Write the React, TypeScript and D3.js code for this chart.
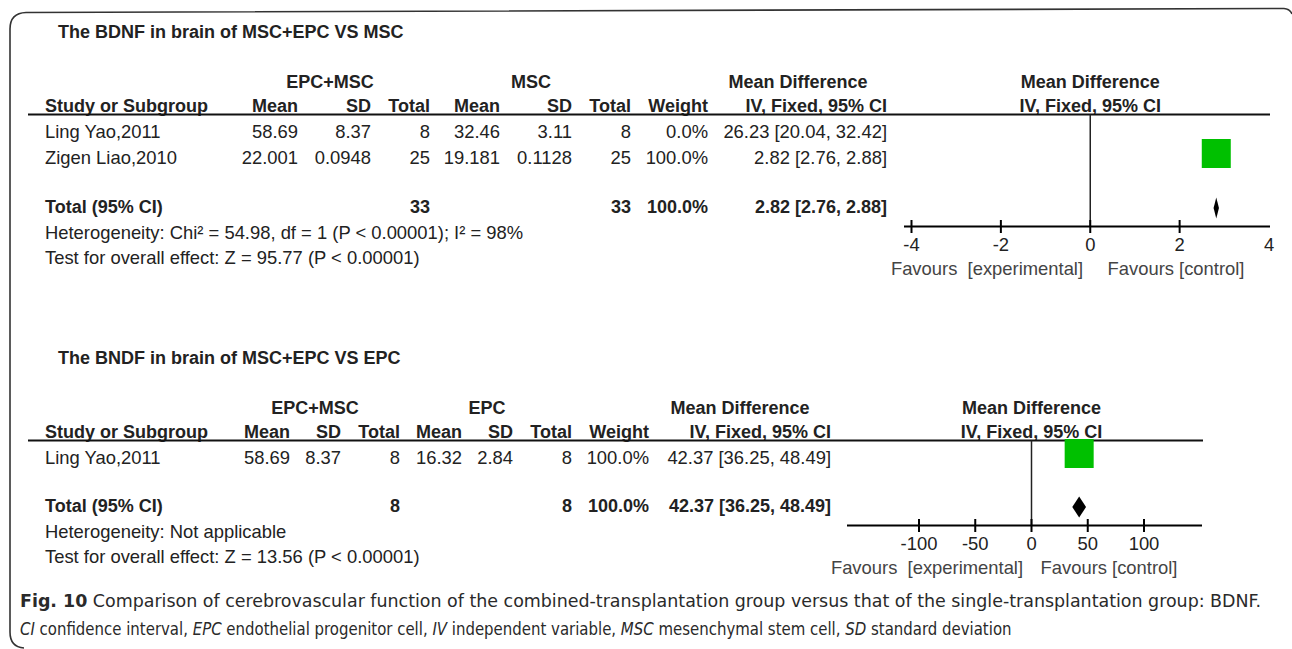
import React from "react";
import * as d3 from "d3";

// ---------- Data: panel 1 (MSC+EPC vs MSC) ----------
const title1 = "The BDNF in brain of MSC+EPC VS MSC";
const groupA1 = "EPC+MSC";
const groupB1 = "MSC";
const studies1 = ["Ling Yao,2011", "Zigen Liao,2010"];
const expMean1 = ["58.69", "22.001"];
const expSD1 = ["8.37", "0.0948"];
const expN1 = [8, 25];
const ctlMean1 = ["32.46", "19.181"];
const ctlSD1 = ["3.11", "0.1128"];
const ctlN1 = [8, 25];
const weight1 = [0.0, 100.0];
const md1 = [26.23, 2.82];
const lo1 = [20.04, 2.76];
const hi1 = [32.42, 2.88];
const total1 = { expN: 33, ctlN: 33, weight: 100.0, md: 2.82, lo: 2.76, hi: 2.88 };
const het1 = "Heterogeneity: Chi\u00B2 = 54.98, df = 1 (P < 0.00001); I\u00B2 = 98%";
const test1 = "Test for overall effect: Z = 95.77 (P < 0.00001)";
const ticks1 = [-4, -2, 0, 2, 4];
const tickMarks1 = [-4, -2, 0, 2];

// ---------- Data: panel 2 (MSC+EPC vs EPC) ----------
const title2 = "The BNDF in brain of MSC+EPC VS EPC";
const groupA2 = "EPC+MSC";
const groupB2 = "EPC";
const studies2 = ["Ling Yao,2011"];
const expMean2 = ["58.69"];
const expSD2 = ["8.37"];
const expN2 = [8];
const ctlMean2 = ["16.32"];
const ctlSD2 = ["2.84"];
const ctlN2 = [8];
const weight2 = [100.0];
const md2 = [42.37];
const lo2 = [36.25];
const hi2 = [48.49];
const total2 = { expN: 8, ctlN: 8, weight: 100.0, md: 42.37, lo: 36.25, hi: 48.49 };
const het2 = "Heterogeneity: Not applicable";
const test2 = "Test for overall effect: Z = 13.56 (P < 0.00001)";
const ticks2 = [-100, -50, 0, 50, 100];
const tickMarks2 = [-100, -50, 0, 50, 100];

const favLeft = "Favours  [experimental]";
const favRight = "Favours [control]";

const FONT = "'Liberation Sans', Arial, Helvetica, sans-serif";
const CAPFONT = "'DejaVu Sans Condensed', 'Open Sans', sans-serif";
const FS = 18.4;
const FSB = 18.0;
const INK = "#222";

type Cols = {
  study: number; mean1: number; sd1: number; tot1: number; mean2: number; sd2: number; tot2: number;
  weight: number; ci: number; grpA: number; grpB: number; mdHead: number;
};

type PanelProps = {
  top: number;
  title: string; groupA: string; groupB: string;
  studies: string[]; expMean: string[]; expSD: string[]; expN: number[];
  ctlMean: string[]; ctlSD: string[]; ctlN: number[];
  weight: number[]; md: number[]; lo: number[]; hi: number[];
  total: { expN: number; ctlN: number; weight: number; md: number; lo: number; hi: number };
  het: string; test: string;
  cols: Cols;
  domain: [number, number]; range: [number, number];
  lineExtent: [number, number];
  ticks: number[]; tickMarks: number[];
  favL: number; favR: number;
  ruleRight: number;
  totalGap: number;
  axisOffset: number;
};

const fmt2 = (v: number) => v.toFixed(2);
const ciText = (m: number, l: number, h: number) => `${fmt2(m)} [${fmt2(l)}, ${fmt2(h)}]`;
const pct = (w: number) => `${w.toFixed(1)}%`;

function T(props: { x: number; y: number; children: React.ReactNode; anchor?: string; bold?: boolean; fill?: string; size?: number }) {
  return (
    <text
      x={props.x}
      y={props.y}
      textAnchor={props.anchor || "start"}
      fontWeight={props.bold ? "bold" : "normal"}
      fill={props.fill || INK}
      fontSize={props.size || (props.bold ? FSB : FS)}
      fontFamily={FONT}
      style={{ whiteSpace: "pre" }}
    >
      {props.children}
    </text>
  );
}

function Panel(p: PanelProps) {
  const x = d3.scaleLinear().domain(p.domain).range(p.range);
  const size = d3.scaleSqrt().domain([0, 100]).range([0, 29]);
  const c = p.cols;
  const yTitle = p.top;
  const yH1 = yTitle + 50;
  const yH2 = yH1 + 24;
  const yRule = yH2 + 2.5;
  const yRow0 = yH2 + 25.5;
  const rowStep = 26;
  const yTotal = yRow0 + (p.studies.length - 1) * rowStep + p.totalGap;
  const yHet = yTotal + 26;
  const yTest = yHet + 25;
  const yAxis = yTotal + p.axisOffset;
  const x0 = x(0);
  const [dmin, dmax] = x.domain();
  const diamondH = 21;

  return (
    <g>
      <T x={58} y={yTitle} bold>{p.title}</T>
      <T x={c.grpA} y={yH1} bold anchor="middle">{p.groupA}</T>
      <T x={c.grpB} y={yH1} bold anchor="middle">{p.groupB}</T>
      <T x={c.mdHead} y={yH1} bold anchor="middle">Mean Difference</T>
      <T x={x0} y={yH1} bold anchor="middle">Mean Difference</T>

      <T x={c.study} y={yH2} bold>Study or Subgroup</T>
      <T x={c.mean1} y={yH2} bold anchor="end">Mean</T>
      <T x={c.sd1} y={yH2} bold anchor="end">SD</T>
      <T x={c.tot1} y={yH2} bold anchor="end">Total</T>
      <T x={c.mean2} y={yH2} bold anchor="end">Mean</T>
      <T x={c.sd2} y={yH2} bold anchor="end">SD</T>
      <T x={c.tot2} y={yH2} bold anchor="end">Total</T>
      <T x={c.weight} y={yH2} bold anchor="end">Weight</T>
      <T x={c.ci} y={yH2} bold anchor="end">IV, Fixed, 95% CI</T>
      <T x={x0} y={yH2} bold anchor="middle">IV, Fixed, 95% CI</T>
      <line x1={28} x2={p.ruleRight} y1={yRule} y2={yRule} stroke="#111" strokeWidth={2} />

      {p.studies.map((s, i) => {
        const y = yRow0 + i * rowStep;
        const inRange = p.md[i] >= dmin && p.md[i] <= dmax && p.weight[i] > 0;
        const sz = size(p.weight[i]);
        return (
          <g key={s}>
            <T x={c.study} y={y}>{s}</T>
            <T x={c.mean1} y={y} anchor="end">{p.expMean[i]}</T>
            <T x={c.sd1} y={y} anchor="end">{p.expSD[i]}</T>
            <T x={c.tot1} y={y} anchor="end">{p.expN[i]}</T>
            <T x={c.mean2} y={y} anchor="end">{p.ctlMean[i]}</T>
            <T x={c.sd2} y={y} anchor="end">{p.ctlSD[i]}</T>
            <T x={c.tot2} y={y} anchor="end">{p.ctlN[i]}</T>
            <T x={c.weight} y={y} anchor="end">{pct(p.weight[i])}</T>
            <T x={c.ci} y={y} anchor="end">{ciText(p.md[i], p.lo[i], p.hi[i])}</T>
            {inRange && (
              <g>
                <line x1={x(Math.max(p.lo[i], dmin))} x2={x(Math.min(p.hi[i], dmax))} y1={y - 10} y2={y - 10} stroke="#000" strokeWidth={1.5} />
                <rect x={x(p.md[i]) - sz / 2} y={y - 10 - sz / 2} width={sz} height={sz} fill="#00C000" />
              </g>
            )}
          </g>
        );
      })}

      <T x={c.study} y={yTotal} bold>Total (95% CI)</T>
      <T x={c.tot1} y={yTotal} bold anchor="end">{p.total.expN}</T>
      <T x={c.tot2} y={yTotal} bold anchor="end">{p.total.ctlN}</T>
      <T x={c.weight} y={yTotal} bold anchor="end">{pct(p.total.weight)}</T>
      <T x={c.ci} y={yTotal} bold anchor="end">{ciText(p.total.md, p.total.lo, p.total.hi)}</T>
      <path
        d={`M${x(p.total.lo)},${yTotal - 4.5} L${x(p.total.md)},${yTotal - 4.5 - diamondH / 2} L${x(p.total.hi)},${yTotal - 4.5} L${x(p.total.md)},${yTotal - 4.5 + diamondH / 2} Z`}
        fill="#000"
      />
      <T x={c.study} y={yHet}>{p.het}</T>
      <T x={c.study} y={yTest}>{p.test}</T>

      <line x1={x0} x2={x0} y1={yRule} y2={yAxis} stroke="#222" strokeWidth={1.5} />
      <line x1={p.lineExtent[0]} x2={p.lineExtent[1]} y1={yAxis} y2={yAxis} stroke="#000" strokeWidth={2.2} />
      {p.tickMarks.map((t) => (
        <line key={`tm${t}`} x1={x(t)} x2={x(t)} y1={yAxis - 6.5} y2={yAxis + 6.5} stroke="#000" strokeWidth={2} />
      ))}
      {p.ticks.map((t) => (
        <T key={`tl${t}`} x={x(t)} y={yAxis + 24.5} anchor="middle">{String(t)}</T>
      ))}
      <T x={p.favL} y={yAxis + 48} anchor="middle" fill="#444">{favLeft}</T>
      <T x={p.favR} y={yAxis + 48} anchor="middle" fill="#444">{favRight}</T>
    </g>
  );
}

const cols1: Cols = {
  study: 45, mean1: 298, sd1: 371, tot1: 430, mean2: 500, sd2: 572, tot2: 631,
  weight: 708, ci: 887, grpA: 330, grpB: 531, mdHead: 798,
};
const cols2: Cols = {
  study: 45, mean1: 290, sd1: 341, tot1: 400, mean2: 462, sd2: 513, tot2: 572,
  weight: 649, ci: 831, grpA: 315, grpB: 487, mdHead: 740,
};

const captionLine1Bold = "Fig. 10";
const captionLine1 = " Comparison of cerebrovascular function of the combined-transplantation group versus that of the single-transplantation group: BDNF.";
const captionAbbr = [
  ["CI", " confidence interval, "],
  ["EPC", " endothelial progenitor cell, "],
  ["IV", " independent variable, "],
  ["MSC", " mesenchymal stem cell, "],
  ["SD", " standard deviation"],
];
const CAP_W1 = 1242;
const CAP_W2 = 992;
const CAP_FS = 18.5;

export default function App() {
  const cap1 = React.useRef<SVGTextElement | null>(null);
  const cap2 = React.useRef<SVGTextElement | null>(null);
  const [k, setK] = React.useState<[number, number]>([1, 1]);
  React.useLayoutEffect(() => {
    const a = cap1.current, b = cap2.current;
    if (!a || !b) return;
    const w1 = a.getComputedTextLength();
    const w2 = b.getComputedTextLength();
    if (w1 > 0 && w2 > 0) setK([CAP_W1 / w1, CAP_W2 / w2]);
  }, []);

  return (
    <svg width={1292} height={649} style={{ position: "absolute", left: 0, top: 0, background: "#fff" }}>
      <rect x={0} y={0} width={1292} height={649} fill="#fff" />
      <path
        d="M1284,8.5 Q1290,9 1292,14 M1284,8.5 L26,12.5 Q10,13 10,29 L10,632 Q10,647 24,648"
        fill="none"
        stroke="#333"
        strokeWidth={1.6}
      />
      <Panel
        top={38}
        title={title1} groupA={groupA1} groupB={groupB1}
        studies={studies1} expMean={expMean1} expSD={expSD1} expN={expN1}
        ctlMean={ctlMean1} ctlSD={ctlSD1} ctlN={ctlN1}
        weight={weight1} md={md1} lo={lo1} hi={hi1}
        total={total1} het={het1} test={test1}
        cols={cols1}
        domain={[-4, 4]} range={[911.5, 1269]}
        lineExtent={[904, 1270]}
        ticks={ticks1} tickMarks={tickMarks1}
        favL={987} favR={1176}
        ruleRight={1270}
        totalGap={49}
        axisOffset={14}
      />
      <Panel
        top={364}
        title={title2} groupA={groupA2} groupB={groupB2}
        studies={studies2} expMean={expMean2} expSD={expSD2} expN={expN2}
        ctlMean={ctlMean2} ctlSD={ctlSD2} ctlN={ctlN2}
        weight={weight2} md={md2} lo={lo2} hi={hi2}
        total={total2} het={het2} test={test2}
        cols={cols2}
        domain={[-100, 100]} range={[919, 1144]}
        lineExtent={[847, 1202]}
        ticks={ticks2} tickMarks={tickMarks2}
        favL={927} favR={1109}
        ruleRight={1203}
        totalGap={48}
        axisOffset={14}
      />
      <g transform={`translate(20,607) scale(${k[0]},1)`}>
        <text ref={cap1} x={0} y={0} fontFamily={CAPFONT} fontSize={CAP_FS} fill="#2a2a2a" style={{ whiteSpace: "pre" }}>
          <tspan fontWeight="bold">{captionLine1Bold}</tspan>
          <tspan>{captionLine1}</tspan>
        </text>
      </g>
      <g transform={`translate(20,635) scale(${k[1]},1)`}>
        <text ref={cap2} x={0} y={0} fontFamily={CAPFONT} fontSize={CAP_FS} fill="#2a2a2a" style={{ whiteSpace: "pre" }}>
          {captionAbbr.map(([a, b], i) => (
            <React.Fragment key={i}>
              <tspan fontStyle="italic">{a}</tspan>
              <tspan>{b}</tspan>
            </React.Fragment>
          ))}
        </text>
      </g>
    </svg>
  );
}
